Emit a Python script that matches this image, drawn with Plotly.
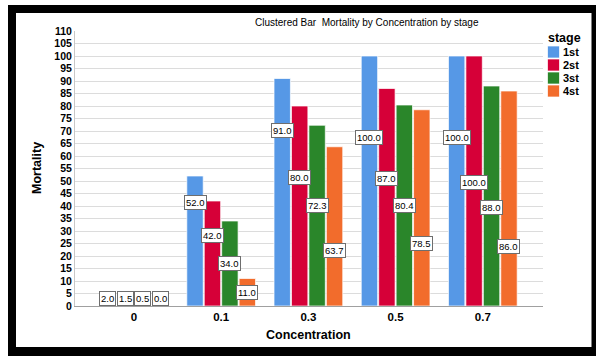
import plotly.graph_objects as go

# ---- data ----
categories = ["0", "0.1", "0.3", "0.5", "0.7"]
stages = ["1st", "2st", "3st", "4st"]
mortality = {
    "1st": [2.0, 52.0, 91.0, 100.0, 100.0],
    "2st": [1.5, 42.0, 80.0, 87.0, 100.0],
    "3st": [0.5, 34.0, 72.3, 80.4, 88.0],
    "4st": [0.0, 11.0, 63.7, 78.5, 86.0],
}
y_ticks = list(range(0, 111, 5))

# label anchor heights (data units) as placed in the reference
label_y = {
    "1st": [3.2, 41.6, 70.4, 67.6, 67.6],
    "2st": [3.2, 28.4, 51.6, 51.2, 49.6],
    "3st": [3.2, 17.2, 40.4, 40.4, 39.6],
    "4st": [3.2, 5.6, 22.4, 25.2, 24.0],
}

colors = {"1st": "#5698e6", "2st": "#d60038", "3st": "#2a862a", "4st": "#f26c2c"}

W, H = 596, 356
L, R, T, B = 75, 53, 31, 50
pw, ph = W - L - R, H - T - B


def px(x):
    return (x - L) / pw


def py(y):
    return (H - B - y) / ph


FONT = "Liberation Sans, Arial, sans-serif"
xs = list(range(len(categories)))

fig = go.Figure()
for s in stages:
    fig.add_trace(go.Bar(
        x=xs, y=mortality[s], name=s,
        marker=dict(color=colors[s], line=dict(color="rgba(255,255,255,0.7)", width=1)),
        showlegend=False, hoverinfo="skip",
    ))

annotations = []
n = len(stages)
for j, s in enumerate(stages):
    off = (j - (n - 1) / 2) * 0.8 / n
    for i, v in enumerate(mortality[s]):
        annotations.append(dict(
            x=i + off, y=label_y[s][i], xref="x", yref="y",
            text=f"{v:.1f}", showarrow=False,
            font=dict(family=FONT, size=9.5, color="#000"),
            bgcolor="white", bordercolor="#6e6e6e", borderwidth=1, borderpad=1,
            xanchor="center", yanchor="middle",
        ))

# title and axis titles
annotations.append(dict(x=px(367), y=py(22), xref="paper", yref="paper",
                        text="Clustered Bar\u00a0 Mortality by Concentration by stage",
                        showarrow=False, font=dict(family=FONT, size=10, color="#000"),
                        xanchor="center", yanchor="middle"))
annotations.append(dict(x=px(308), y=py(335), xref="paper", yref="paper",
                        text="<b>Concentration</b>", showarrow=False,
                        font=dict(family=FONT, size=12.5, color="#000"),
                        xanchor="center", yanchor="middle"))
annotations.append(dict(x=px(37), y=py(168), xref="paper", yref="paper",
                        text="<b>Mortality</b>", showarrow=False, textangle=-90,
                        font=dict(family=FONT, size=12.5, color="#000"),
                        xanchor="center", yanchor="middle"))

# manual legend
shapes = []
annotations.append(dict(x=px(546), y=py(38), xref="paper", yref="paper",
                        text="<b>stage</b>", showarrow=False,
                        font=dict(family=FONT, size=12.5, color="#000"),
                        xanchor="left", yanchor="middle"))
rows = [52, 65, 78, 91]
for s, ry in zip(stages, rows):
    shapes.append(dict(type="rect", xref="paper", yref="paper",
                       x0=px(547.5), x1=px(559.5), y0=py(ry + 6), y1=py(ry - 6),
                       fillcolor=colors[s], line=dict(color="rgba(255,255,255,0.7)", width=1)))
    annotations.append(dict(x=px(561), y=py(ry), xref="paper", yref="paper",
                            text=f"<b>{s}</b>", showarrow=False,
                            font=dict(family=FONT, size=11, color="#000"),
                            xanchor="left", yanchor="middle"))

# thick black frame (four bands)
for (a, b, c, d) in [(8, 600, 5, 13), (8, 600, 347, 360), (8, 16, 5, 360), (591.5, 600, 5, 360)]:
    shapes.append(dict(type="rect", xref="paper", yref="paper",
                       x0=px(a), x1=px(b), y0=py(d), y1=py(c),
                       line=dict(width=0), fillcolor="black", layer="above"))

fig.update_layout(
    width=W, height=H,
    margin=dict(l=L, r=R, t=T, b=B, pad=0),
    paper_bgcolor="white", plot_bgcolor="white",
    barmode="group", bargap=0.2, bargroupgap=0.06,
    font=dict(family=FONT, color="#000"),
    annotations=annotations, shapes=shapes,
    showlegend=False,
)
fig.update_xaxes(
    tickmode="array", tickvals=xs, ticktext=[f"<b>{c}</b>" for c in categories],
    range=[-0.676, 4.69], showgrid=False, zeroline=False,
    showline=True, linecolor="#a0a0a0", linewidth=1, ticks="",
    tickfont=dict(family=FONT, size=11.5, color="#000"),
)
fig.update_yaxes(
    tickmode="array", tickvals=y_ticks, ticktext=[f"<b>{t}</b>" for t in y_ticks],
    range=[0, 110], showgrid=True, gridcolor="#dcdcdc", gridwidth=1, zeroline=False,
    showline=True, linecolor="#c8c8c8", linewidth=1, ticks="",
    tickfont=dict(family=FONT, size=10.5, color="#000"),
)

fig.write_html(
    "out.html",
    config={"displayModeBar": False, "staticPlot": True},
    post_script="document.body.style.margin='0';document.body.style.overflow='hidden';",
)
